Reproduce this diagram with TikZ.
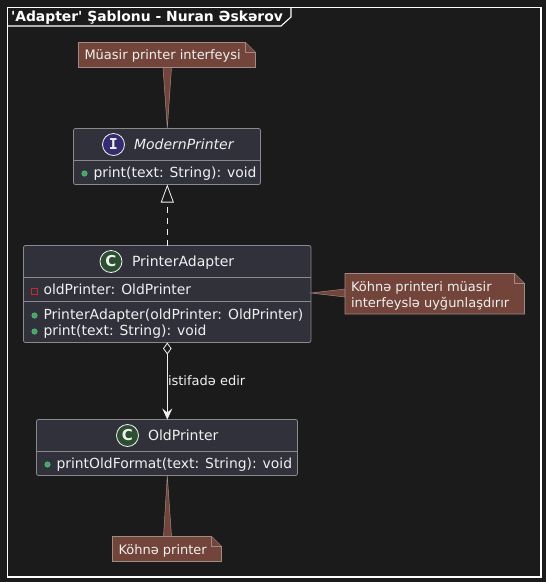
\documentclass[tikz,border=0pt]{standalone}
\usepackage{fontspec}
\setmainfont{DejaVu Sans}
\newfontfamily\plainfam{DejaVu Sans}
\newfontfamily\monofam{DejaVu Sans Mono}
\usetikzlibrary{arrows.meta}
\definecolor{bgc}{HTML}{1B1B1B}
\definecolor{boxc}{HTML}{30313B}
\definecolor{boxl}{HTML}{8A8A8A}
\definecolor{notec}{HTML}{72443A}
\definecolor{notel}{HTML}{A08A85}
\definecolor{txt}{HTML}{F0F0F0}
\definecolor{pubc}{HTML}{3FA862}
\definecolor{privc}{HTML}{C82930}
\definecolor{circc}{HTML}{2B4F30}
\definecolor{circi}{HTML}{362A70}
\tikzset{
  x=1pt,y=-1pt,
  every node/.style={font=\fontsize{13}{15}\selectfont,text=txt,inner sep=0pt,outer sep=0pt},
  umlbox/.style={draw=boxl,fill=boxc,line width=0.8pt,rounded corners=2pt,anchor=north west},
  sepline/.style={draw=boxl,line width=0.8pt},
  notebody/.style={draw=notel,fill=notec,line width=0.8pt,line join=miter},
  notetail/.style={fill=notec,draw=notel,line width=0.5pt},
  label/.style={anchor=base west},
  member/.style={anchor=base west,font=\fontsize{13.9}{15}\selectfont},
  cname/.style={anchor=base west,font=\fontsize{14}{16}\selectfont},
  pubdot/.style={fill=pubc,draw=pubc!70!white,line width=0.4pt},
  privbox/.style={draw=privc,line width=0.9pt},
  badge/.style={circle,draw=txt,line width=0.8pt,minimum size=22pt,font=\bfseries\fontsize{15}{16}\selectfont},
  conn/.style={draw=txt,line width=0.8pt},
}
\begin{document}
\begin{tikzpicture}
\useasboundingbox (0,0) rectangle (546,582);
\fill[bgc] (0,0) rectangle (546,582);
% frame
\draw[white,line width=1.1pt] (7.5,7.5) rectangle (541,577);
\draw[white,line width=1.1pt] (7.5,26) -- (281,26) -- (291,17) -- (291,7.5);
\node[anchor=base west,font=\plainfam\bfseries\fontsize{13.9}{15}\selectfont,text=white] (title) at (11,21) {'Adapter' Şablonu - Nuran Əskərov};

% class boxes
\node[umlbox,minimum width=187pt,minimum height=56pt] (mp) at (73.5,128.5) {};
\draw[sepline] (73.5,160.5) -- (260.5,160.5);
\node[badge,fill=circi,font=\monofam\bfseries\fontsize{15}{16}\selectfont] (mpi) at (113.5,144.5) {I};
\node[cname,font=\itshape\fontsize{14}{16}\selectfont] (mpn) at (134,149) {ModernPrinter};
\node[circle,pubdot,minimum size=5.5pt] (mpd) at (84.5,173.5) {};
\node[member] (mpm) at (93.5,177) {print(text: String): void};

\node[umlbox,minimum width=287.5pt,minimum height=97pt] (pa) at (23.5,245.5) {};
\draw[sepline] (23.5,277.5) -- (311,277.5);
\draw[sepline] (23.5,301.5) -- (311,301.5);
\node[badge,fill=circc] (pai) at (111,261.5) {C};
\node[cname] (pan) at (132,266) {PrinterAdapter};
\node[privbox,minimum size=6pt] (paf) at (34.5,291) {};
\node[member] (pam) at (43.5,294) {oldPrinter: OldPrinter};
\node[circle,pubdot,minimum size=5.5pt] (pad1) at (34.5,315.5) {};
\node[member] (pac) at (43.5,319) {PrinterAdapter(oldPrinter: OldPrinter)};
\node[circle,pubdot,minimum size=5.5pt] (pad2) at (34.5,331.5) {};
\node[member] (pap) at (43.5,335) {print(text: String): void};

\node[umlbox,minimum width=261pt,minimum height=56pt] (op) at (36.5,419.5) {};
\draw[sepline] (36.5,451.5) -- (297.5,451.5);
\node[badge,fill=circc] (opi) at (127.5,435.5) {C};
\node[cname] (opn) at (148,440) {OldPrinter};
\node[circle,pubdot,minimum size=5.5pt] (opd) at (47.5,464.5) {};
\node[member] (opm) at (56.5,468) {printOldFormat(text: String): void};

% connectors
\coordinate (mptop) at (167.3,128.5);
\coordinate (mpb) at (167.3,184.5);
\coordinate (pat) at (167.3,245.5);
\coordinate (pab) at (167.3,342.5);
\coordinate (opt) at (167.3,419.5);
\coordinate (opb) at (167.3,475.5);
\coordinate (par) at (311,293);
\draw[conn,dash pattern=on 6pt off 5pt,-{Triangle[open,length=18pt,width=13pt,fill=bgc]}] (pat) -- (mpb);
\draw[conn,{Diamond[open,length=12pt,width=8.5pt,fill=bgc]}-{Stealth[length=11pt,width=10pt,inset=4pt,fill=txt]}] (pab) -- (opt);
\node[label] (lab) at (168,385) {istifadə edir};

% notes
\path[notetail] (163,67.5) -- (mptop) -- (171.5,67.5) -- cycle;
\path[notebody] (78.5,42.5) -- (245.5,42.5) -- (255.5,52.5) -- (255.5,67.5) -- (78.5,67.5) -- cycle;
\path[notebody,fill=notec] (245.5,42.5) -- (245.5,52.5) -- (255.5,52.5);
\node[label] (n1) at (84.5,59) {Müasir printer interfeysi};

\path[notetail] (345,289) -- (par) -- (345,297) -- cycle;
\path[notebody] (345,273.5) -- (514.5,273.5) -- (524.5,283.5) -- (524.5,314) -- (345,314) -- cycle;
\path[notebody] (514.5,273.5) -- (514.5,283.5) -- (524.5,283.5);
\node[label] (n2a) at (351,291) {Köhnə printeri müasir};
\node[label] (n2b) at (351,307) {interfeyslə uyğunlaşdırır};

\path[notetail] (163.5,536.5) -- (opb) -- (171.5,536.5) -- cycle;
\path[notebody] (112.5,536.5) -- (211.5,536.5) -- (221.5,546.5) -- (221.5,561.5) -- (112.5,561.5) -- cycle;
\path[notebody] (211.5,536.5) -- (211.5,546.5) -- (221.5,546.5);
\node[label] (n3) at (118.5,554) {Köhnə printer};
\end{tikzpicture}
\end{document}
